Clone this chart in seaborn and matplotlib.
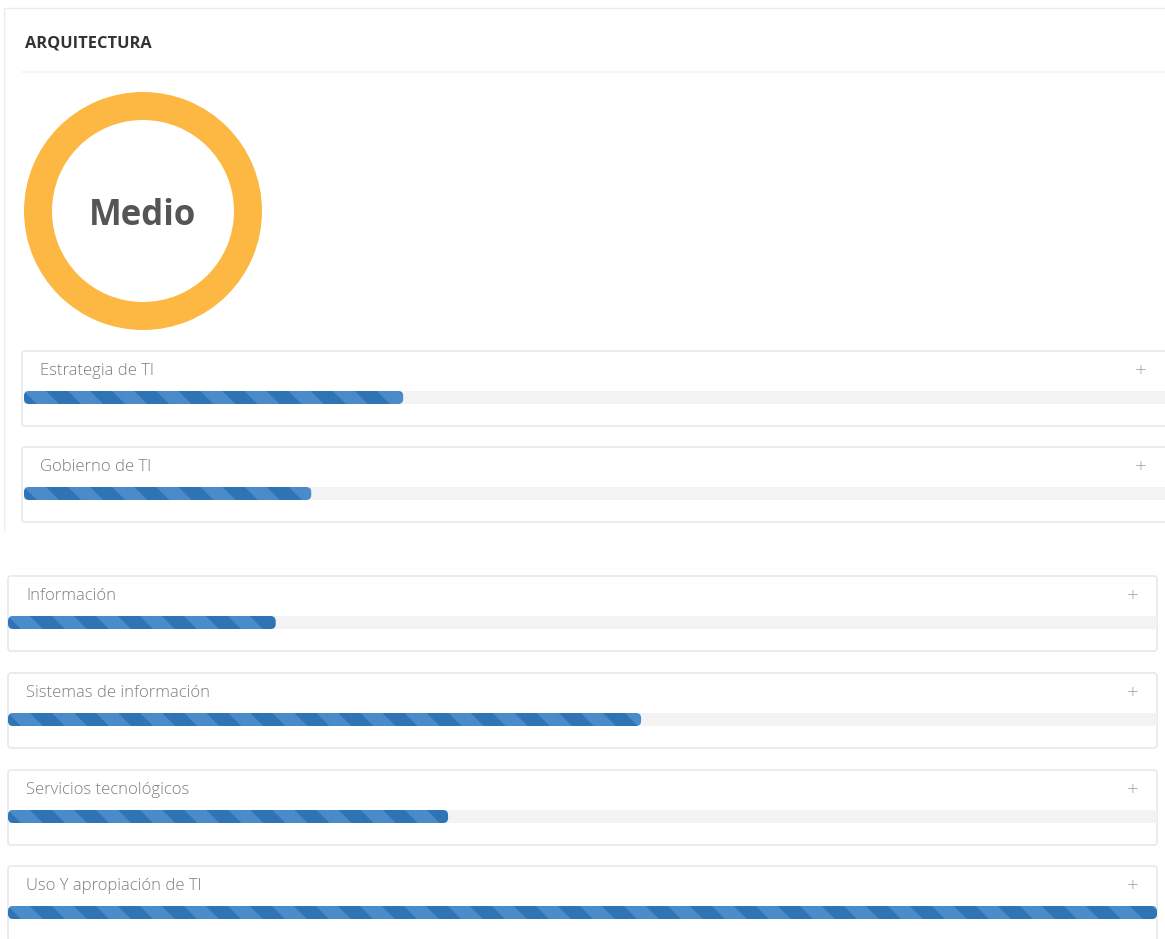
import numpy as np
import matplotlib
matplotlib.use("Agg")
import matplotlib.pyplot as plt
from matplotlib.patches import FancyBboxPatch
from matplotlib.colors import ListedColormap
import seaborn as sns

# -------------------------------
# Data
# -------------------------------
seccion = "ARQUITECTURA"
nivel = "Medio"
dominios = ["Estrategia de TI", "Gobierno de TI", "Información",
            "Sistemas de información", "Servicios tecnológicos",
            "Uso Y apropiación de TI"]
avance = [33, 25, 23.3, 55.1, 38.3, 100]

# -------------------------------
# Style
# -------------------------------
sns.set_theme(style="white")
plt.rcParams['font.family'] = ['Open Sans', 'DejaVu Sans']

W, H = 1165, 939
ORANGE = "#FDB843"
BLUE_DARK = "#2F74B5"
BLUE_LIGHT = "#4B8BCA"
TRACK = "#F3F3F3"
BORDER = "#E6E6E6"

fig = plt.figure(figsize=(W / 100, H / 100), dpi=100)
fig.patch.set_facecolor("white")

# background axes in pixel units for the panels and texts
bg = fig.add_axes([0, 0, 1, 1])
bg.set_xlim(0, W)
bg.set_ylim(H, 0)
bg.axis("off")


def frac(x0, y0, w, h):
    return [x0 / W, 1 - (y0 + h) / H, w / W, h / H]


# outer panel of the top block
bg.plot([4, W], [8, 8], color="#EDEDED", lw=1)
bg.plot([4, 4], [8, 530], color="#EDEDED", lw=1)
bg.plot([22, W], [72, 72], color="#F3F3F3", lw=1.2)
bg.text(25, 44, seccion, fontsize=11.8, fontweight="bold", color="#333333",
        va="center", ha="left")

# donut with the level
ax_d = fig.add_axes(frac(24, 92, 238, 238))
ax_d.pie([1], colors=[ORANGE], radius=1, startangle=90,
         wedgeprops=dict(width=28 / 119, edgecolor="none"))
ax_d.set_xlim(-1, 1)
ax_d.set_ylim(-1, 1)
ax_d.axis("off")
ax_d.text(0, -0.04, nivel, fontsize=25, fontweight="bold", color="#555555",
          ha="center", va="center")

# cards layout
tops = [351, 447, 576, 673, 770, 866]
lefts = [22, 22, 8, 8, 8, 8]
rights = [1185, 1185, 1157, 1157, 1157, 1157]
track_w = 1149
CARD_H = 75

stripe_cmap = ListedColormap([BLUE_DARK, BLUE_LIGHT])

for i, (name, val) in enumerate(zip(dominios, avance)):
    top, left, right = tops[i], lefts[i], rights[i]
    card = FancyBboxPatch((left, top), right - left, CARD_H,
                          boxstyle="round,pad=0,rounding_size=3",
                          facecolor="white", edgecolor=BORDER, lw=1.1)
    bg.add_patch(card)
    bg.text(left + 18, top + 20, name, fontsize=12, color="#7E7E7E",
            ha="left", va="center", fontweight="light")
    bg.text(right - 24 if right < W else 1141, top + 20, "+", fontsize=15,
            color="#A8A8A8", ha="center", va="center", fontweight="light")

    # progress bar
    bx = left + 2 if left > 10 else left
    ax = fig.add_axes(frac(bx, top + 40, track_w, 13))
    sns.barplot(x=[100], y=[0], orient="h", color=TRACK, width=1,
                saturation=1, ax=ax)
    sns.barplot(x=[val], y=[0], orient="h", color=BLUE_DARK, width=1,
                saturation=1, ax=ax)
    ax.set_xlim(0, 100)
    ax.set_ylim(0.5, -0.5)
    for p in ax.patches:
        p.set_edgecolor("none")

    bar = ax.patches[-1]
    x0, y0 = bar.get_x(), bar.get_y()
    bw, bh = bar.get_width(), bar.get_height()
    bar.set_visible(False)
    # rounded shape in pixel proportions
    px_x = 100 / track_w
    aspect = (1 / 13) / px_x
    shape = FancyBboxPatch((x0, y0), bw, bh,
                           boxstyle=f"round,pad=0,rounding_size={5 * px_x}",
                           mutation_aspect=aspect, facecolor="none",
                           edgecolor="none")
    ax.add_patch(shape)
    # diagonal stripes
    wpx = int(round(val / 100 * track_w))
    sc = 4
    yy, xx = np.mgrid[0:13 * sc, 0:wpx * sc] / sc
    stripes = (((xx - yy) % 44) < 22).astype(float)
    im = ax.imshow(stripes, cmap=stripe_cmap, extent=(x0, x0 + bw, y0 + bh, y0),
                   aspect="auto", interpolation="antialiased", vmin=0, vmax=1,
                   zorder=3)
    im.set_clip_path(shape)
    ax.set_xlim(0, 100)
    ax.set_ylim(0.5, -0.5)
    ax.axis("off")

fig.savefig("out.png", dpi=100, facecolor="white")
